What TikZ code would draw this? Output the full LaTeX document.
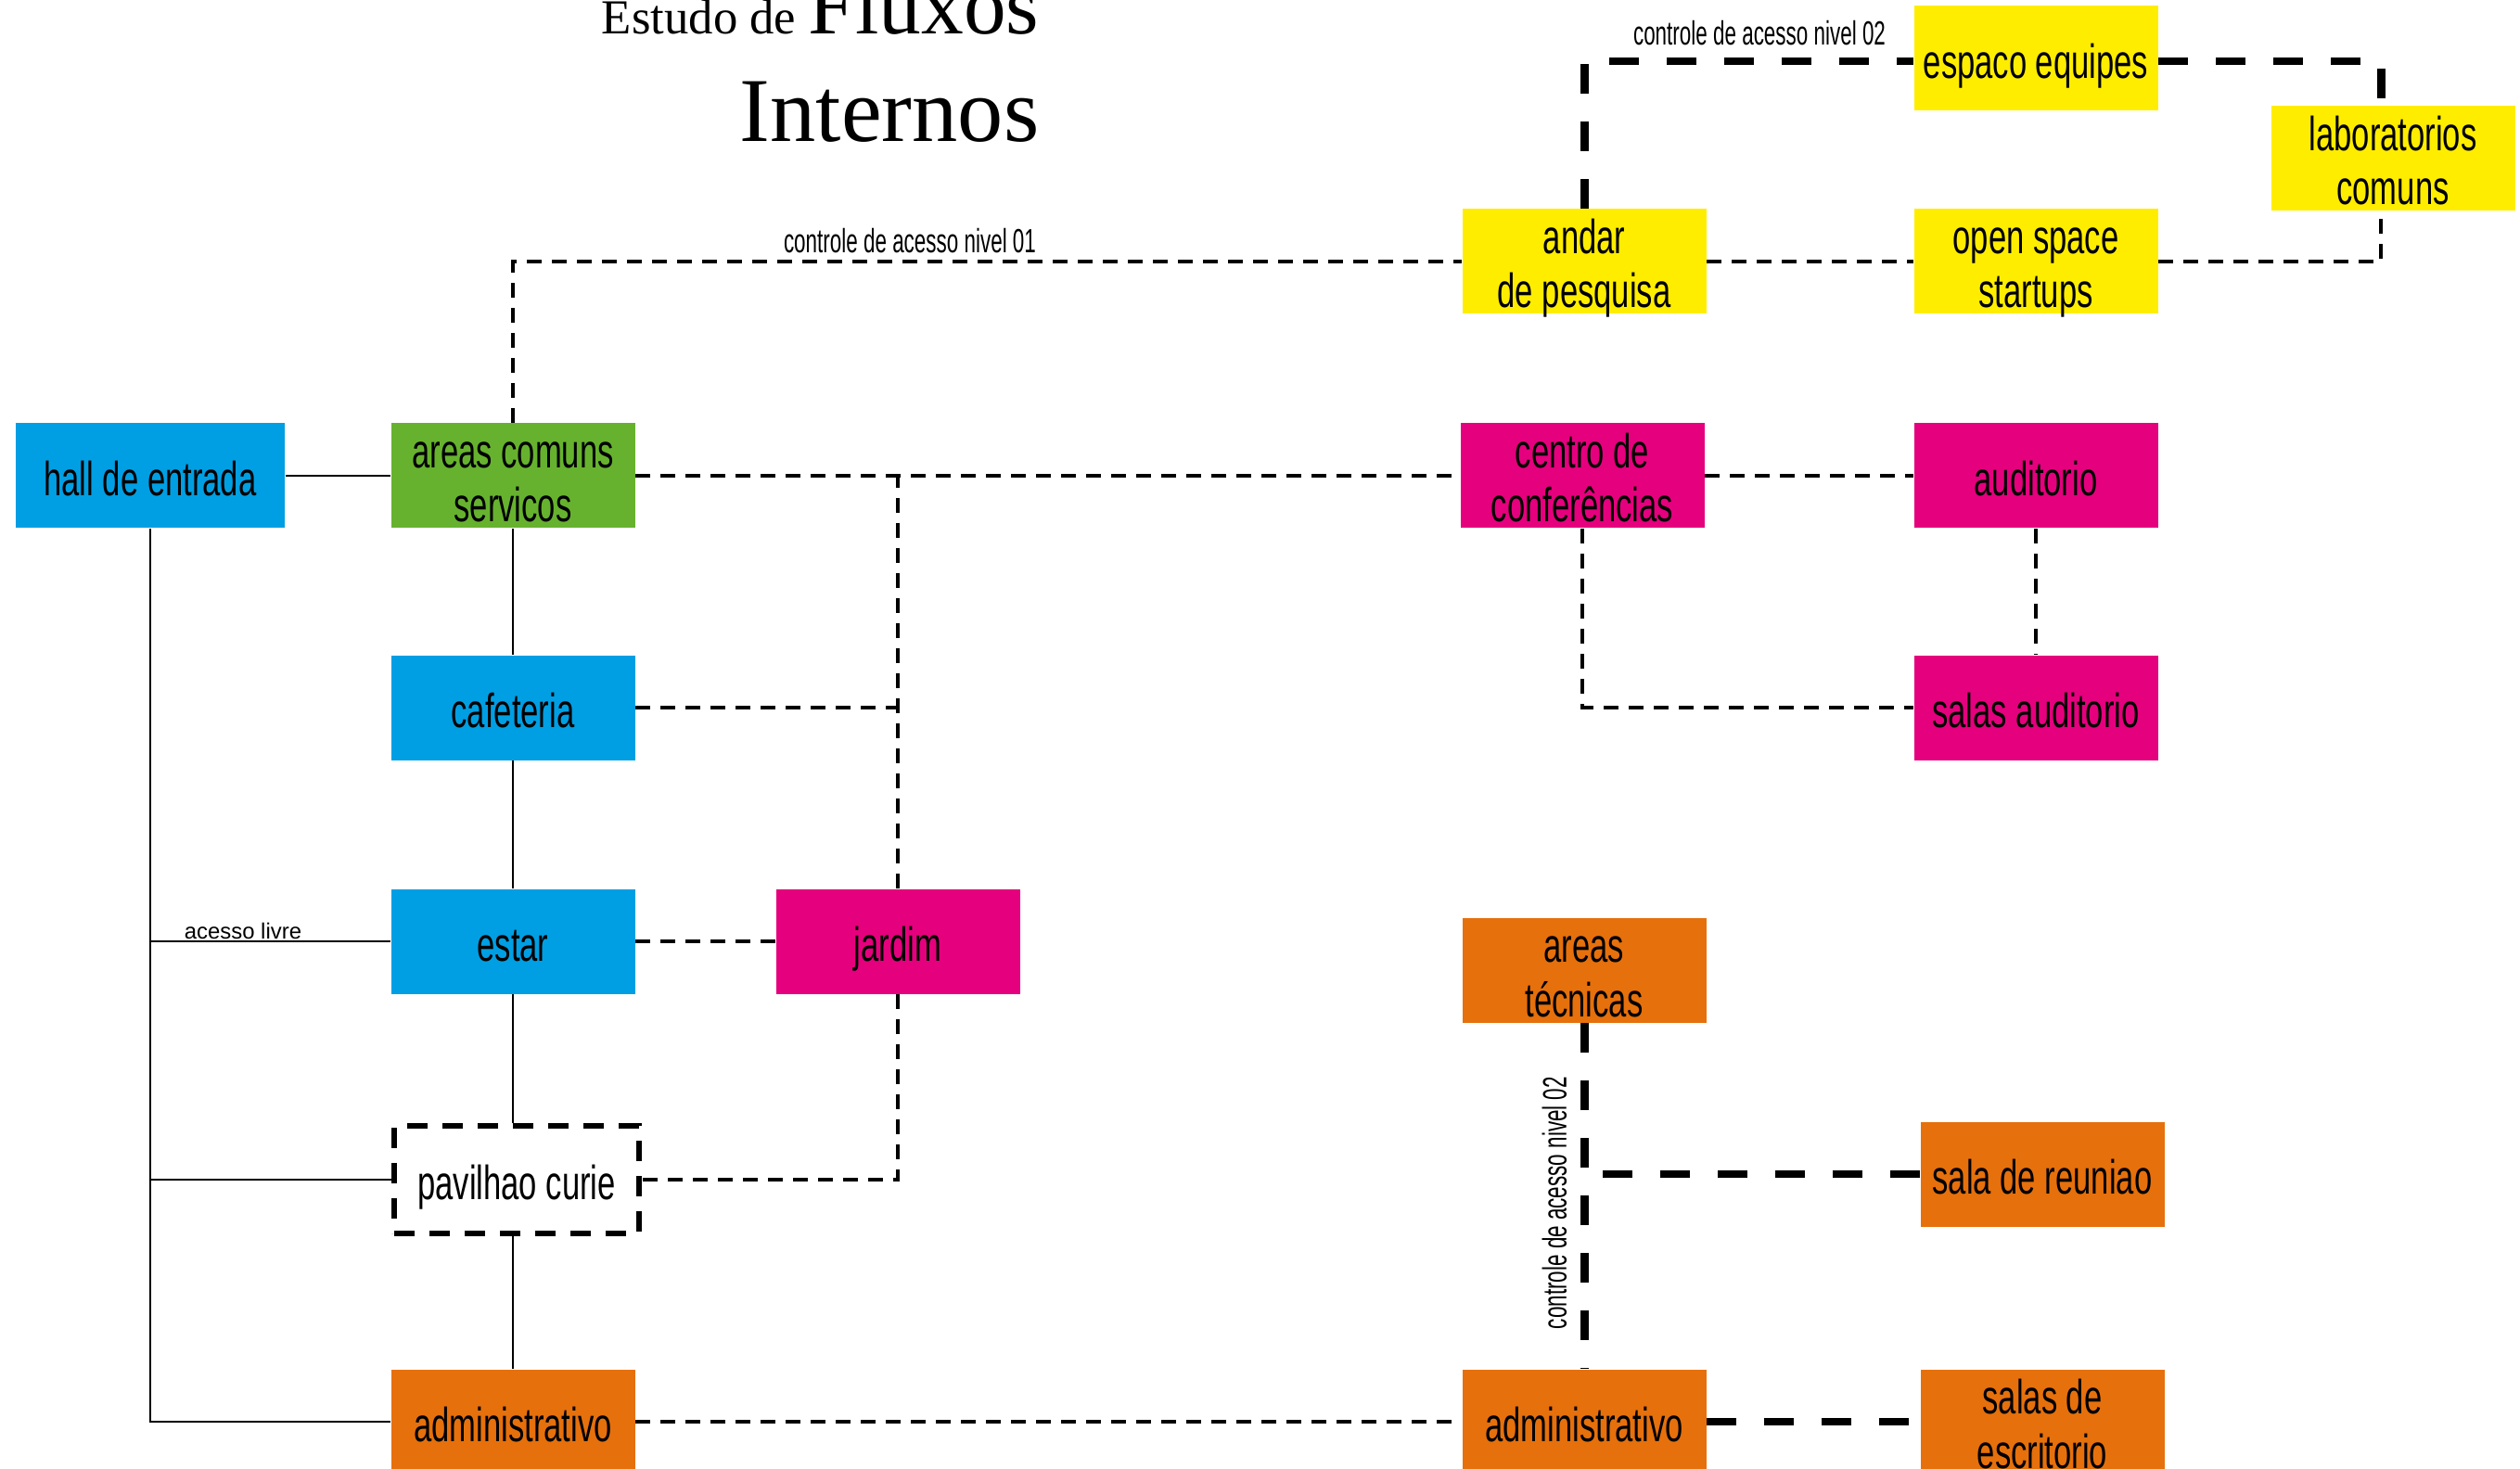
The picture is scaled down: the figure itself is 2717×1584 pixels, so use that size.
\documentclass[tikz,border=0pt]{standalone}
\usepackage{fontspec}
\setmainfont{Liberation Serif}
\newfontfamily\agency[FakeStretch=0.67]{Liberation Sans}
\newfontfamily\agencynote[FakeStretch=0.62]{Liberation Sans}
\newfontfamily\agencywide{Liberation Sans}
\definecolor{cblue}{HTML}{009FE3}
\definecolor{cgreen}{HTML}{66B22E}
\definecolor{cpink}{HTML}{E5007D}
\definecolor{cyellow}{HTML}{FFED00}
\definecolor{corange}{HTML}{E6700C}
\newcommand\twoline[2]{\vbox{\halign{\hfil##\hfil\cr#1\cr#2\cr}}}

\begin{document}
\begin{tikzpicture}[x=.1mm,y=-.1mm,
  box/.style={minimum width=26.3mm,minimum height=11.3mm,inner sep=0pt,
    font=\agency\fontsize{14.7pt}{16.6pt}\selectfont,text height=5mm,text depth=.7mm},
  twobox/.style={box,text height=10.6mm,text depth=.6mm},
  freeline/.style={line width=.6pt},
  lowdash/.style={line width=1.35pt,dash pattern=on 1.6mm off 1.1mm},
  highdash/.style={line width=2.55pt,dash pattern=on 3.2mm off 3mm},
  note/.style={inner sep=0pt,font=\agencynote\fontsize{10.3pt}{12pt}\selectfont}]
  \useasboundingbox (0,0) rectangle (2717,1584);

  % title
  \node[anchor=base east,inner sep=0pt] (estudo) at (1121,37)
    {\fontsize{15pt}{18pt}\selectfont Estudo de \fontsize{26pt}{30pt}\selectfont Fluxos};
  \node[anchor=base east,inner sep=0pt] (internos) at (1121,153)
    {\fontsize{28pt}{32pt}\selectfont Internos};

  % left column
  \node[box,fill=cblue,minimum width=29mm] (hall) at (162,513) {hall de entrada};
  \node[twobox,fill=cgreen] (areas) at (553,513) {\twoline{areas comuns}{servicos}};
  \node[box,fill=cblue] (cafe) at (553,763) {cafeteria};
  \node[box,fill=cblue] (estar) at (553,1015) {estar};
  \node[box,fill=cpink] (jardim) at (968,1015) {jardim};
  \node[box,draw,line width=1.8pt,dash pattern=on 2.2mm off 1.6mm,minimum width=26.4mm,
    minimum height=11.6mm] (pav) at (557,1272) {pavilhao curie};
  \node[box,fill=corange] (admL) at (553,1533) {administrativo};

  % research
  \node[twobox,fill=cyellow] (andar) at (1708,282) {\twoline{andar}{de pesquisa}};
  \node[box,fill=cyellow] (espaco) at (2195,63) {espaco equipes};
  \node[twobox,fill=cyellow] (open) at (2195,282) {\twoline{open space}{startups}};
  \node[twobox,fill=cyellow] (lab) at (2580,171) {\twoline{laboratorios}{comuns}};

  % conferences
  \node[twobox,fill=cpink] (centro) at (1706,513) {\twoline{centro de}{conferências}};
  \node[box,fill=cpink] (audi) at (2195,513) {auditorio};
  \node[box,fill=cpink] (salasaud) at (2195,763) {salas auditorio};

  % administration
  \node[twobox,fill=corange] (tec) at (1708,1046) {\twoline{areas}{técnicas}};
  \node[box,fill=corange] (reuniao) at (2202,1266) {sala de reuniao};
  \node[box,fill=corange] (admR) at (1708,1533) {administrativo};
  \node[twobox,fill=corange] (escrit) at (2202,1533) {\twoline{salas de}{escritorio}};

  % free access
  \draw[freeline] (hall) -- (areas);
  \draw[freeline] (hall.south) |- (admL.west);
  \draw[freeline] (estar.west) -- (estar.west -| hall.south);
  \draw[freeline] (pav.west) -- (pav.west -| hall.south);
  \draw[freeline] (areas) -- (cafe);
  \draw[freeline] (cafe) -- (estar);
  \draw[freeline] (estar.south) -- (estar.south |- pav.north);
  \draw[freeline] (admL.north) -- (admL.north |- pav.south);
  \node[anchor=base,inner sep=0pt,font=\agencywide\fontsize{6.8pt}{8pt}\selectfont]
    (livre) at (262,1012) {acesso livre};

  % level 01
  \draw[lowdash] (areas.north) |- (andar.west);
  \node[note,anchor=base] (nivel01) at (981,273) {controle de acesso nivel 01};
  \draw[lowdash] (areas.east) -- (centro.west);
  \draw[lowdash] (cafe.east) -- (cafe.east -| jardim.north);
  \draw[lowdash] (jardim.north) -- (jardim.north |- areas.east);
  \draw[lowdash] (estar) -- (jardim);
  \draw[lowdash] (jardim.south) |- (pav.east);
  \draw[lowdash] (admL) -- (admR);
  \draw[lowdash] (andar) -- (open);
  \draw[lowdash] (open.east) -| ([xshift=-1.3mm]lab.south);
  \draw[lowdash] (centro) -- (audi);
  \draw[lowdash] (audi) -- (salasaud);
  \draw[lowdash] (centro.south) |- (salasaud.west);

  % level 02
  \draw[highdash] (andar.north) |- ([yshift=-.3mm]espaco.west);
  \draw[highdash] ([yshift=-.3mm]espaco.east) -| ([xshift=-1.3mm]lab.north);
  \node[note,anchor=base] (nivel02a) at (1897,49) {controle de acesso nivel 02};
  \draw[highdash] (tec.south) -- (admR.north);
  \draw[highdash] (reuniao.west) -- (reuniao.west -| tec.south);
  \draw[highdash] (admR) -- (escrit);
  \node[note,rotate=90] (nivel02b) at (1676,1297) {controle de acesso nivel 02};
\end{tikzpicture}
\end{document}
